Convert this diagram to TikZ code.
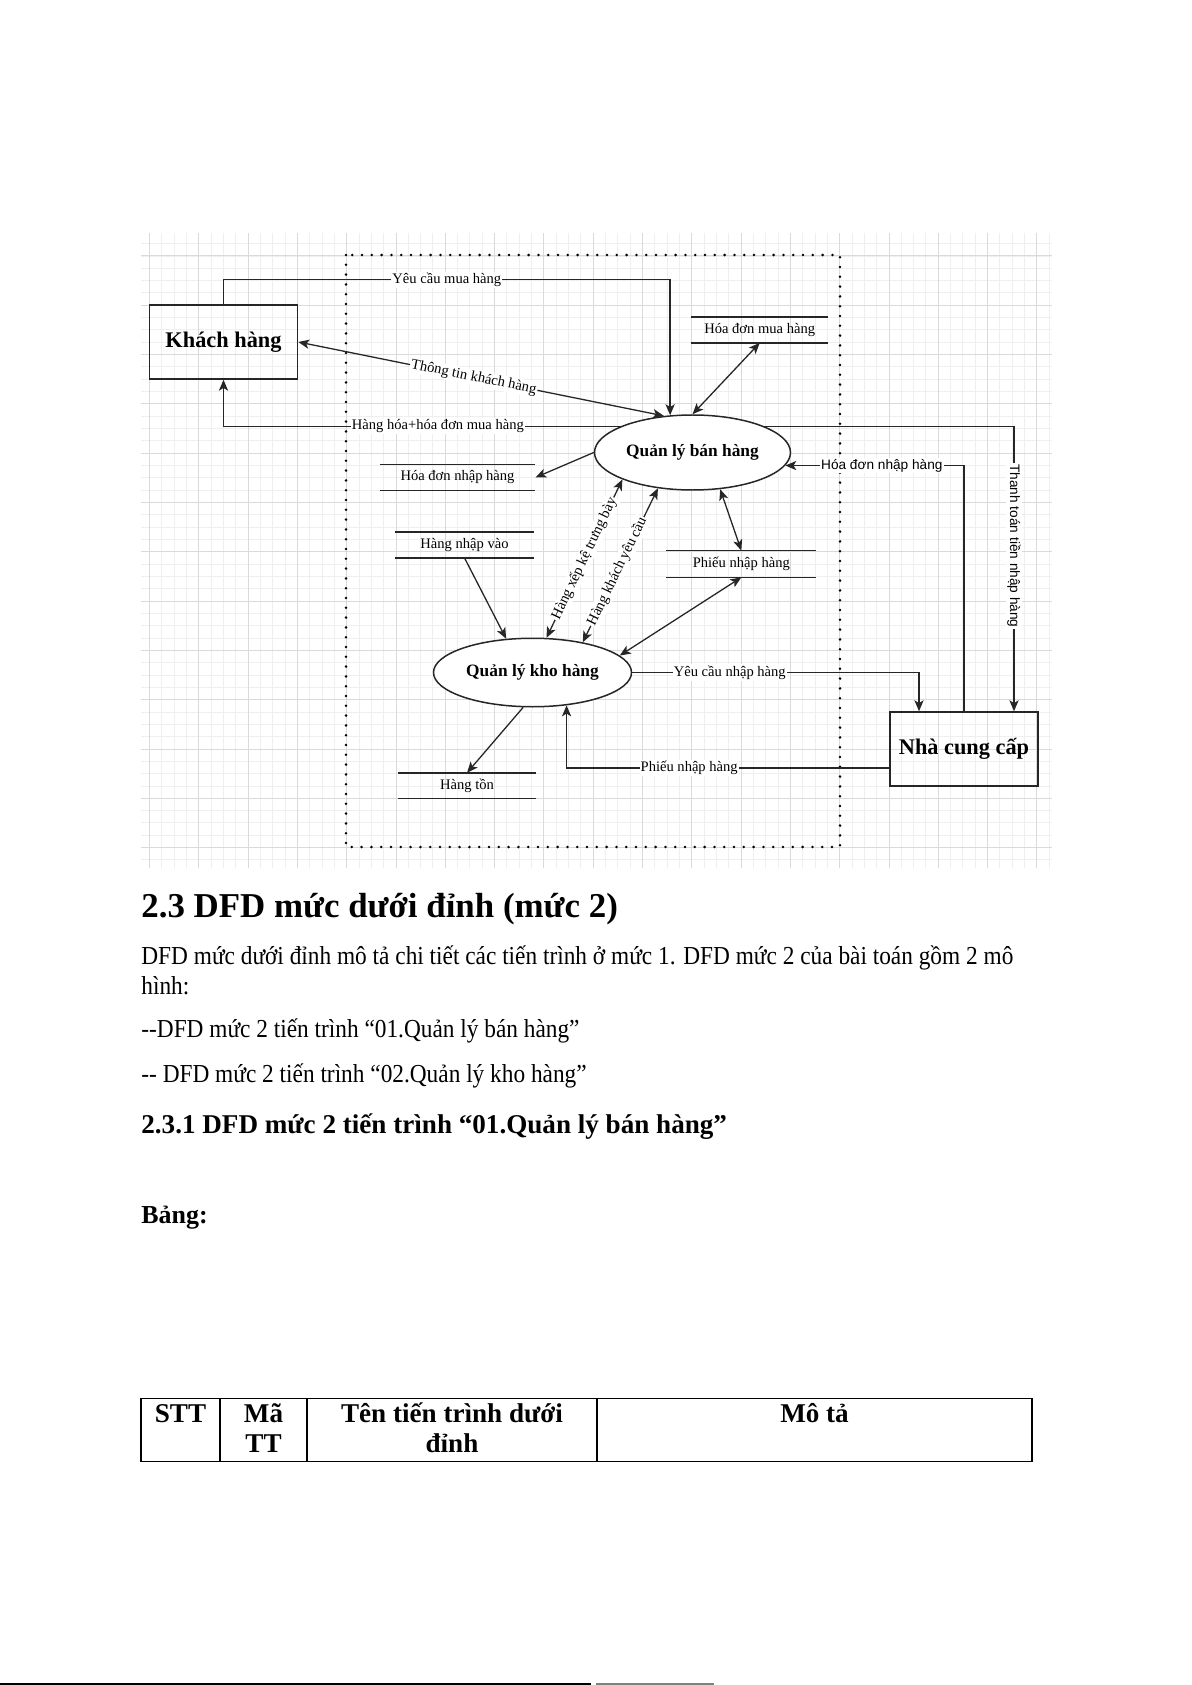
\documentclass[tikz,border=0pt]{standalone}
\usepackage{fontspec}
\setmainfont{Liberation Serif}
\newfontfamily\arialfont{Liberation Sans}
\newfontfamily\bodyfont[FakeStretch=0.9]{Liberation Serif}
\usetikzlibrary{arrows.meta,positioning,calc,shapes.geometric}
\definecolor{gridMinor}{HTML}{EFEFEF}
\definecolor{gridMajor}{HTML}{DADADA}
\definecolor{inkGray}{HTML}{262626}
\newlength\px
\setlength\px{0.17632mm}

\begin{document}
\begin{tikzpicture}[
    x=0.17632mm, y=-0.17632mm,
    entity/.style={draw=inkGray, line width=0.75pt, minimum width=148\px, minimum height=74\px, inner sep=0pt, font=\fontsize{11.2}{13}\selectfont\bfseries},
    process/.style={draw=inkGray, ellipse, line width=0.75pt, fill=white, minimum width=196\px, minimum height=75\px, inner sep=0pt, font=\fontsize{8.7}{10}\selectfont\bfseries},
    storeline/.style={draw=inkGray, line width=0.7pt},
    store/.style={minimum height=25\px, inner sep=0pt, font=\fontsize{7.3}{8}\selectfont,
      append after command={(\tikzlastnode.north west) edge[storeline] (\tikzlastnode.north east)
        (\tikzlastnode.south west) edge[storeline] (\tikzlastnode.south east)}},
    arrow/.style={-{Stealth[length=5.5pt,width=4.6pt,inset=1.4pt]}, line width=0.65pt, color=inkGray},
    dblarrow/.style={arrow, {Stealth[length=5.5pt,width=4.6pt,inset=1.4pt]}-{Stealth[length=5.5pt,width=4.6pt,inset=1.4pt]}},
    lbl/.style={fill=white, inner sep=0.6pt, font=\fontsize{7.3}{8}\selectfont, text=black},
    slbl/.style={lbl, font=\arialfont\fontsize{6.85}{8}\selectfont},
    boundary/.style={dash pattern=on 0pt off 9.8\px, line cap=round, line width=2.8\px},
    gridminor/.style={color=gridMinor, line width=0.5pt},
    gridmajor/.style={color=gridMajor, line width=0.5pt},
    bodytext/.style={anchor=base west, inner sep=0pt, font=\bodyfont\fontsize{13}{15}\selectfont},
    tablehead/.style={anchor=base, inner sep=0pt, font=\fontsize{13.6}{15}\selectfont\bfseries},
    tableline/.style={line width=0.6pt}
  ]
    \useasboundingbox (0,0) rectangle (1191,1685);

    % grid of the diagram
    \foreach \k in {0,...,73} \draw[gridminor] ({149.5+12.325*\k},233) -- ++(0,635);
    \foreach \k in {0,...,50} \draw[gridminor] (141,{243.7+12.325*\k}) -- ++(911,0);
    \foreach \k in {0,...,18} \draw[gridmajor] ({149.5+49.3*\k},233) -- ++(0,635);
    \foreach \k in {0,...,12} \draw[gridmajor] (141,{256+49.3*\k}) -- ++(911,0);

    % system boundary
    \draw[boundary] (346,255) rectangle (840,847);

    % entities and processes
    \node[entity] (kh) at (223.5,342) {Khách hàng};
    \node[entity] (ncc) at (964,749) {Nhà cung cấp};
    \node[process] (qlbh) at (692.5,452.5) {Quản lý bán hàng};
    \node[process, minimum width=198\px, minimum height=68.5\px] (qlkh) at (532.5,672.5) {Quản lý kho hàng};

    % data stores
    \node[store, minimum width=136\px] (hdmua) at (759.7,330) {Hóa đơn mua hàng};
    \node[store, minimum width=155\px] (hdnhap) at (457.5,477.5) {Hóa đơn nhập hàng};
    \node[store, minimum width=139\px] (hnv) at (464.5,545) {Hàng nhập vào};
    \node[store, minimum width=149.5\px, minimum height=26\px] (pnh) at (741.3,564) {Phiếu nhập hàng};
    \node[store, minimum width=137\px] (hton) at (467,785.7) {Hàng tồn};

    % flows
    \draw[arrow] (kh.north) -- ++(0,-24.5) -| node[lbl, pos=0.25] {Yêu cầu mua hàng} (qlbh.121);
    \draw[dblarrow] (kh.east) -- node[lbl, sloped, pos=0.48] {Thông tin khách hàng} (qlbh.128);
    \draw[arrow] (qlbh.160) -| node[lbl, pos=0.23] {Hàng hóa+hóa đơn mua hàng} (kh.south);
    \draw[arrow] (qlbh.20) -| node[slbl, rotate=-90, pos=0.71] {Thanh toán tiền nhập hàng} ([xshift=50\px]ncc.north);
    \draw[arrow] (ncc.north) |- node[slbl, pos=0.73] {Hóa đơn nhập hàng} (qlbh.-8);
    \draw[dblarrow] (qlbh.north) -- (hdmua.south);
    \draw[arrow] (qlbh.west) -- (hdnhap.east);
    \draw[dblarrow] (qlbh.201) -- node[lbl, sloped] {Hàng xếp kệ trưng bày} (qlkh.68);
    \draw[dblarrow] (qlbh.226) -- node[lbl, sloped, pos=0.54] {Hàng khách yêu cầu} (qlkh.31);
    \draw[dblarrow] (qlbh.-53) -- (pnh.north);
    \draw[dblarrow] (pnh.south) -- (qlkh.11);
    \draw[arrow] (hnv.south) -- (qlkh.128);
    \draw[arrow] (qlkh.east) -| node[lbl, pos=0.17] {Yêu cầu nhập hàng} ([xshift=-45\px]ncc.north);
    \draw[arrow] ([yshift=-19\px]ncc.west) -| node[lbl, pos=0.31] {Phiếu nhập hàng} (qlkh.-44);
    \draw[arrow] (qlkh.255) -- (hton.north);

    % text below the diagram
    \node[bodytext, font=\fontsize{17.5}{21}\selectfont\bfseries] (sec) at (141,917) {2.3 DFD mức dưới đỉnh (mức 2)};
    \node[bodytext] (para1) at (141,964.5) {DFD mức dưới đỉnh mô tả chi tiết các tiến trình ở mức 1. DFD mức 2 của bài toán gồm 2 mô};
    \node[bodytext] (para2) at (141,994) {hình:};
    \node[bodytext] (item1) at (141,1037.5) {-{}-DFD mức 2 tiến trình “01.Quản lý bán hàng”};
    \node[bodytext] (item2) at (141,1082) {-{}- DFD mức 2 tiến trình “02.Quản lý kho hàng”};
    \node[bodytext, font=\fontsize{13.6}{16}\selectfont\bfseries] (subsec) at (141,1133) {2.3.1 DFD mức 2 tiến trình “01.Quản lý bán hàng”};
    \node[bodytext, font=\fontsize{13}{15}\selectfont\bfseries] (bang) at (141,1223) {Bảng:};

    % table header
    \draw[tableline] (141,1398.5) rectangle (1032,1461.5);
    \foreach \cx in {220,307,597} \draw[tableline] (\cx,1398.5) -- (\cx,1461.5);
    \node[tablehead] (hstt) at (180.5,1422) {STT};
    \node[tablehead] (hma) at (263.5,1422) {Mã};
    \node[tablehead] (hmb) at (263.5,1452) {TT};
    \node[tablehead] (hten) at (452,1422) {Tên tiến trình dưới};
    \node[tablehead] (htenb) at (452,1452) {đỉnh};
    \node[tablehead] (hmota) at (814.5,1422) {Mô tả};

    % page edge
    \draw[line width=2\px] (0,1684) -- (591,1684);
    \draw[line width=2\px, color=gray] (596,1684) -- (714,1684);
  \end{tikzpicture}
\end{document}
